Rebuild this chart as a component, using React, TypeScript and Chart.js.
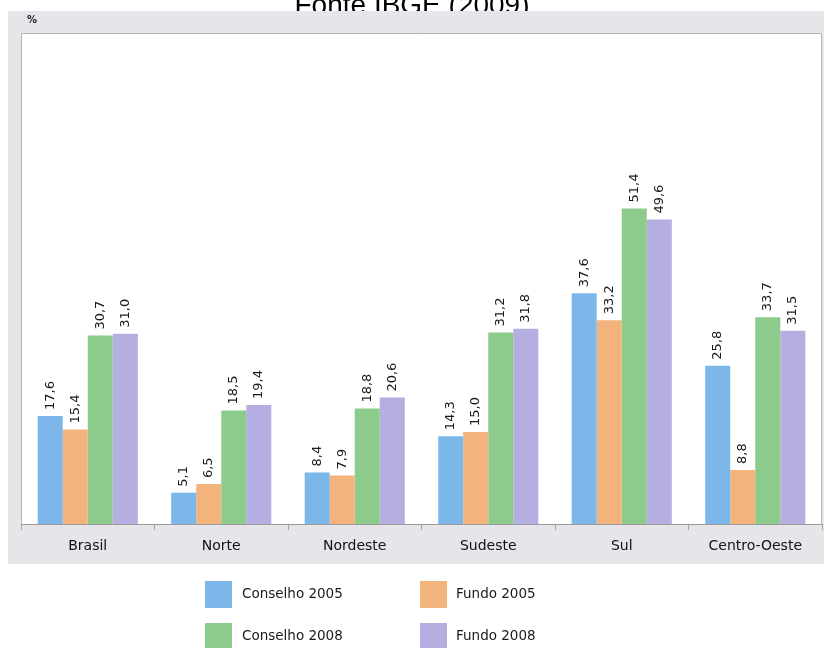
import React, { useEffect, useRef } from "react";
import { Chart, registerables } from "chart.js";
Chart.register(...registerables);

const categories = ["Brasil", "Norte", "Nordeste", "Sudeste", "Sul", "Centro-Oeste"];
const seriesNames = ["Conselho 2005", "Fundo 2005", "Conselho 2008", "Fundo 2008"];
const conselho2005 = [17.6, 5.1, 8.4, 14.3, 37.6, 25.8];
const fundo2005 = [15.4, 6.5, 7.9, 15.0, 33.2, 8.8];
const conselho2008 = [30.7, 18.5, 18.8, 31.2, 51.4, 33.7];
const fundo2008 = [31.0, 19.4, 20.6, 31.8, 49.6, 31.5];
const seriesColors = ["#7db7ea", "#f2b47c", "#8dcb8d", "#b5aee0"];
const titleText = "Fonte IBGE (2009)";
const yUnit = "%";
const yMax = 80;

const framePlugin = {
  id: "frame",
  beforeDraw(chart: any) {
    const { ctx, chartArea: a, width, height } = chart;
    ctx.save();
    ctx.fillStyle = "#fff";
    ctx.fillRect(0, 0, width, height);
    ctx.fillStyle = "#000";
    ctx.font = '28px "Liberation Sans", Arial, sans-serif';
    ctx.textAlign = "center";
    ctx.textBaseline = "alphabetic";
    ctx.fillText(titleText, 412, 14);
    ctx.fillStyle = "#e6e6ea";
    ctx.fillRect(8, 11, width - 8, 553);
    ctx.fillStyle = "#fff";
    ctx.fillRect(a.left, a.top, a.right - a.left, a.bottom - a.top);
    ctx.strokeStyle = "#b4b4b8";
    ctx.lineWidth = 1;
    ctx.beginPath();
    ctx.moveTo(a.left + 0.5, a.bottom);
    ctx.lineTo(a.left + 0.5, a.top + 0.5);
    ctx.lineTo(a.right - 0.5, a.top + 0.5);
    ctx.lineTo(a.right - 0.5, a.bottom);
    ctx.stroke();
    ctx.fillStyle = "#222";
    ctx.font = 'bold 10px "DejaVu Sans", sans-serif';
    ctx.textAlign = "left";
    ctx.textBaseline = "middle";
    ctx.fillText(yUnit, 27, 20);
    ctx.restore();
  },
};

const valueLabelPlugin = {
  id: "valueLabels",
  afterDatasetsDraw(chart: any) {
    const { ctx } = chart;
    ctx.save();
    ctx.fillStyle = "#1a1a1a";
    ctx.font = '13px "DejaVu Sans", sans-serif';
    ctx.textAlign = "left";
    ctx.textBaseline = "middle";
    chart.data.datasets.forEach((ds: any, i: number) => {
      const meta = chart.getDatasetMeta(i);
      meta.data.forEach((el: any, j: number) => {
        const v = ds.data[j] as number;
        const txt = v.toFixed(1).replace(".", ",");
        ctx.save();
        ctx.translate(el.x, el.y - 6);
        ctx.rotate(-Math.PI / 2);
        ctx.fillText(txt, 0, 0);
        ctx.restore();
      });
    });
    ctx.restore();
  },
};

const legendPlugin = {
  id: "customLegend",
  afterDraw(chart: any) {
    const { ctx } = chart;
    const xs = [205, 420];
    const ys = [581, 623];
    const textXs = [242, 456];
    ctx.save();
    ctx.font = '13.5px "DejaVu Sans", sans-serif';
    ctx.textAlign = "left";
    ctx.textBaseline = "middle";
    chart.data.datasets.forEach((ds: any, i: number) => {
      const col = i % 2;
      const row = Math.floor(i / 2);
      ctx.fillStyle = ds.backgroundColor;
      ctx.fillRect(xs[col], ys[row], 27, 27);
      ctx.fillStyle = "#1a1a1a";
      ctx.fillText(ds.label, textXs[col], ys[row] + 13.5);
    });
    ctx.restore();
  },
};

export default function App() {
  const ref = useRef<HTMLCanvasElement | null>(null);
  useEffect(() => {
    if (!ref.current) return;
    const allData = [conselho2005, fundo2005, conselho2008, fundo2008];
    const chart = new Chart(ref.current, {
      type: "bar",
      data: {
        labels: categories,
        datasets: seriesNames.map((name, i) => ({
          label: name,
          data: allData[i],
          backgroundColor: seriesColors[i],
          borderWidth: 0,
          categoryPercentage: 0.75,
          barPercentage: 1.0,
        })),
      },
      options: {
        animation: false,
        responsive: false,
        devicePixelRatio: 1,
        layout: { padding: { left: 21, right: 2, top: 33, bottom: 0 } },
        plugins: {
          legend: { display: false },
          tooltip: { enabled: false },
          title: { display: false },
        },
        scales: {
          x: {
            grid: {
              display: true,
              drawOnChartArea: false,
              drawTicks: true,
              tickLength: 6,
              offset: true,
              color: "#a8a8a8",
            },
            border: { display: true, color: "#9a9a9a" },
            ticks: {
              color: "#111",
              font: { family: '"DejaVu Sans", sans-serif', size: 14 },
              padding: 8,
              maxRotation: 0,
              autoSkip: false,
            },
            afterFit: (s: any) => {
              s.height = 124;
            },
          },
          y: { display: false, min: 0, max: yMax },
        },
      } as any,
      plugins: [framePlugin, valueLabelPlugin, legendPlugin],
    });
    return () => chart.destroy();
  }, []);
  return (
    <div style={{ position: "absolute", left: 0, top: 0, width: 824, height: 648 }}>
      <canvas ref={ref} width={824} height={648} style={{ display: "block" }} />
    </div>
  );
}
